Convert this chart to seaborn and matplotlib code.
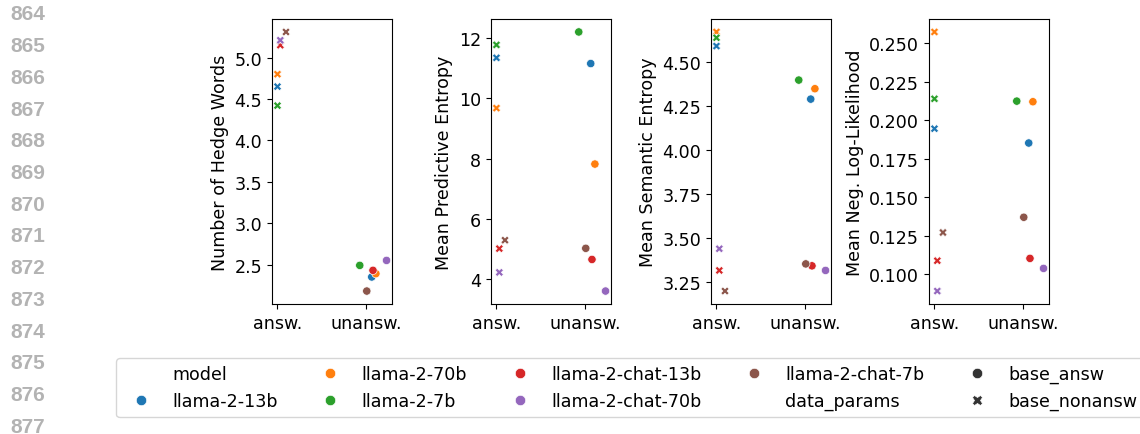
import matplotlib
matplotlib.use("Agg")
import matplotlib.pyplot as plt
import numpy as np
import pandas as pd
import seaborn as sns
from matplotlib.ticker import MultipleLocator, FormatStrFormatter

# ---------------- data ----------------
models = ["llama-2-13b", "llama-2-70b", "llama-2-7b",
          "llama-2-chat-13b", "llama-2-chat-70b", "llama-2-chat-7b"]
categories = ["answ.", "unansw."]
style_levels = ["base_answ", "base_nonansw"]
# data_params shown at each category tick
category_params = ["base_nonansw", "base_answ"]

# small horizontal offsets (jitter), per model
offset_answ = [0.0, 0.0, 0.0, 0.032, 0.032, 0.096]
offset_unansw = [0.063, 0.11, -0.072, 0.077, 0.23, 0.007]

hedge_answ = [4.65, 4.80, 4.42, 5.15, 5.21, 5.31]
hedge_unansw = [2.35, 2.39, 2.49, 2.43, 2.55, 2.18]

pred_answ = [11.35, 9.68, 11.78, 5.01, 4.22, 5.29]
pred_unansw = [11.16, 7.82, 12.21, 4.65, 3.60, 5.02]

sem_answ = [4.59, 4.67, 4.637, 3.317, 3.44, 3.20]
sem_unansw = [4.289, 4.348, 4.397, 3.343, 3.317, 3.354]

nll_answ = [0.1945, 0.2573, 0.2139, 0.1088, 0.0891, 0.1271]
nll_unansw = [0.1852, 0.2120, 0.2124, 0.1103, 0.1038, 0.1370]

metric_labels = ["Number of Hedge Words", "Mean Predictive Entropy",
                 "Mean Semantic Entropy", "Mean Neg. Log-Likelihood"]
line_numbers = [864, 865, 866, 867, 868, 869, 870, 871, 872, 873, 874, 875, 876, 877]

# ---------------- frame ----------------
rows = []
series = [(hedge_answ, hedge_unansw), (pred_answ, pred_unansw),
          (sem_answ, sem_unansw), (nll_answ, nll_unansw)]
for ci, offs in enumerate([offset_answ, offset_unansw]):
    for mi, m in enumerate(models):
        rec = {"model": m, "data_params": category_params[ci],
               "xpos": ci + offs[mi]}
        for k, (a, u) in enumerate(series):
            rec[metric_labels[k]] = (a if ci == 0 else u)[mi]
        rows.append(rec)
df = pd.DataFrame(rows)

# ---------------- figure ----------------
FS = 12.6
plt.rcParams["font.size"] = FS
W, H = 1140, 435
fig = plt.figure(figsize=(W / 100, H / 100), dpi=100)

lefts = [272, 491, 711, 929]
top_px, bot_px, width_px = 20, 305, 120
formats = ["%.1f", "%d", "%.2f", "%.3f"]
steps = [0.5, 2, 0.25, 0.025]

handles = labels = None
for i, lab in enumerate(metric_labels):
    ax = fig.add_axes([lefts[i] / W, 1 - bot_px / H, width_px / W, (bot_px - top_px) / H])
    sns.scatterplot(data=df, x="xpos", y=lab, hue="model", hue_order=models,
                    style="data_params", style_order=style_levels, ax=ax,
                    legend=(i == 0))
    ax.set_xticks([0, 1])
    ax.set_xticklabels(categories)
    ax.set_xlabel("")
    ax.set_ylabel(lab)
    ax.yaxis.set_major_locator(MultipleLocator(steps[i]))
    ax.yaxis.set_major_formatter(FormatStrFormatter(formats[i]))
    ax.tick_params(labelsize=FS)
    if i == 0:
        handles, labels = ax.get_legend_handles_labels()
        ax.get_legend().remove()

fig.legend(handles, labels, loc="upper left",
           bbox_to_anchor=(116 / W, 1 - 359 / H), ncol=5, fontsize=FS,
           borderaxespad=0, frameon=True, markerscale=1.25)

for j, n in enumerate(line_numbers):
    y = 15 + j * 31.7
    fig.text(10 / W, 1 - y / H, str(n), fontsize=15, color="#b3b3b3",
             fontweight="bold", family="Liberation Sans", ha="left", va="center")

fig.savefig("out.png", dpi=100)
